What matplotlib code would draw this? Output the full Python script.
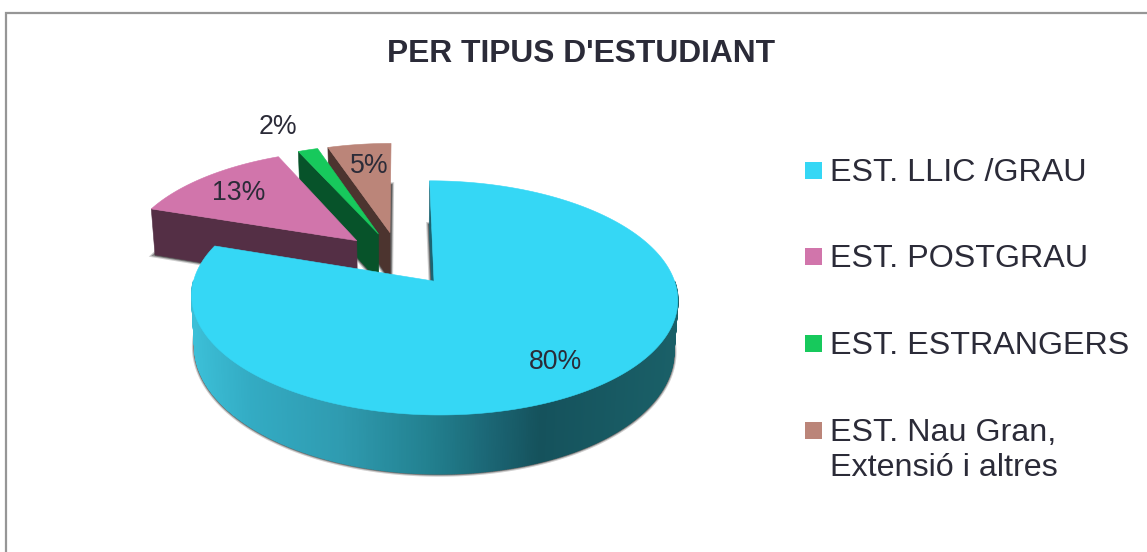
import numpy as np
import matplotlib
matplotlib.use('Agg')
import matplotlib.pyplot as plt
from matplotlib.patches import Polygon, Rectangle

plt.rcParams['font.family'] = ['Liberation Sans', 'DejaVu Sans']

title = "PER TIPUS D'ESTUDIANT"
categories = ['EST. LLIC /GRAU', 'EST. POSTGRAU', 'EST. ESTRANGERS', 'EST. Nau Gran,\nExtensió i altres']
values = [80.2, 13.1, 1.6, 5.1]
pct_labels = ['80%', '13%', '2%', '5%']

top_colors = ['#35d7f5', '#d175ab', '#17c95c', '#bb8579']
wall_colors = ['#1a6472', '#542f45', '#07532a', '#4c342f']
text_color = '#2b2b38'

# shading of the rim of the big slice, left to right on screen
rim_x = [190, 250, 340, 430, 500, 540, 680]
rim_r = [0x3c, 0x33, 0x2f, 0x22, 0x1a, 0x15, 0x1a]
rim_g = [0xc0, 0xab, 0x9b, 0x80, 0x62, 0x52, 0x60]
rim_b = [0xd8, 0xc3, 0xb0, 0x8f, 0x70, 0x5c, 0x68]

# layout of the perspective pie (pixels)
cx, cy = 399, 258.5
rx, ry = 233.7, 108.3
persp = 0.139
depth = 49
shrink = 0.985
explode = 0.25

pct_pos = [(556, 360), (239, 191), (278, 125), (369, 164)]
legend_y = [170.5, 256.5, 343.5, 430.5]


def project(u, v, low=False):
    w = 1 - persp * v
    x = rx * u / w
    y = ry * v / w
    if low:
        return cx + x * shrink, cy + y + depth / w
    return cx + x, cy + y


def slice_outline(start, end, off, n):
    a = np.radians(np.linspace(start, end, n))
    u = np.sin(a) + off[0]
    v = -np.cos(a) + off[1]
    return u, v


fig = plt.figure(figsize=(11.47, 5.52), dpi=100)
ax = fig.add_axes([0, 0, 1, 1])
ax.set_xlim(0, 1147)
ax.set_ylim(552, 0)
ax.axis('off')

# chart frame, open on the right and at the bottom
ax.plot([6, 6, 1147], [552, 12.5, 12.5], color='#969696', lw=1.6, solid_joinstyle='miter')

edges = np.cumsum([0] + values) * 3.6
mids = (edges[:-1] + edges[1:]) / 2

# painted back to front
for i in [3, 2, 1, 0]:
    off = (explode * np.sin(np.radians(mids[i])), -explode * np.cos(np.radians(mids[i])))
    n = max(int((edges[i + 1] - edges[i]) * 2), 2)
    u, v = slice_outline(edges[i], edges[i + 1], off, n)
    cu = np.r_[off[0], u]
    cv = np.r_[off[1], v]

    # soft shadow round the foot of the slice
    lx, ly = project(cu, cv, low=True)
    foot = np.column_stack([lx, ly])
    for lw, alpha in [(4.2, 0.25), (2.6, 0.45), (1.4, 0.6)]:
        ax.add_patch(Polygon(foot, closed=True, fc='none', ec='#3c3c3c', lw=lw, alpha=alpha))

    # rim, the far side is hidden by the top face so it is left out
    tx, ty = project(u, v)
    bx, by = project(u, v, low=True)
    for j in range(n - 1):
        if v[j] - off[1] < 0.0:
            continue
        quad = [(tx[j], ty[j]), (tx[j + 1], ty[j + 1]), (bx[j + 1], by[j + 1]), (bx[j], by[j])]
        if i == 0:
            mx = (tx[j] + tx[j + 1]) / 2
            col = (np.interp(mx, rim_x, rim_r) / 255, np.interp(mx, rim_x, rim_g) / 255,
                   np.interp(mx, rim_x, rim_b) / 255)
        else:
            col = wall_colors[i]
        ax.add_patch(Polygon(quad, closed=True, fc=col, ec=col, lw=1.0))

    # the cut face that looks towards the viewer
    ax0, ay0 = project(off[0], off[1])
    ax1, ay1 = project(off[0], off[1], low=True)
    wall = [(ax0, ay0), (tx[0], ty[0]), (bx[0], by[0]), (ax1, ay1)]
    ax.add_patch(Polygon(wall, closed=True, fc=wall_colors[i], ec=wall_colors[i], lw=0.4))

    # top face
    px, py = project(cu, cv)
    ax.add_patch(Polygon(np.column_stack([px, py]), closed=True, fc=top_colors[i], ec=top_colors[i], lw=0.4))

for lab, pos in zip(pct_labels, pct_pos):
    ax.text(pos[0], pos[1] + 2, lab, fontsize=19.2, color=text_color, ha='center', va='center')

ax.text(581.5, 54, title, fontsize=22.9, fontweight='bold', color=text_color, ha='center', va='center')

# legend
for name, col, y in zip(categories, top_colors, legend_y):
    ax.add_patch(Rectangle((805, y - 8.5), 17, 17, fc=col, ec='none'))
    ax.text(830, y - 12.5, name, fontsize=23.2, color=text_color, ha='left', va='top', linespacing=1.22)

fig.savefig('out.png', dpi=100)
